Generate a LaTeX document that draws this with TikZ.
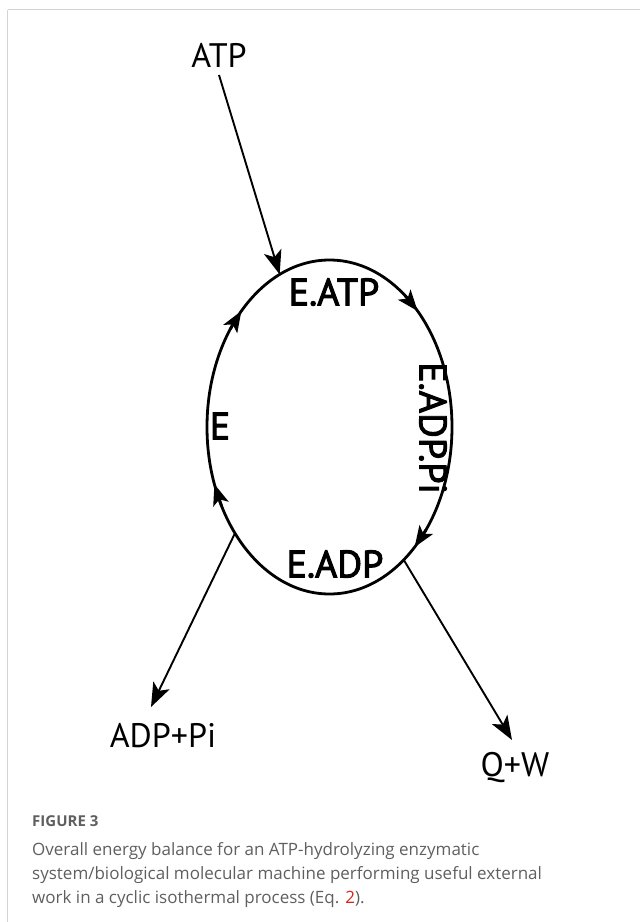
\documentclass[tikz,border=0pt]{standalone}
\usepackage{fontspec}
\setmainfont{PT Sans}
\newfontfamily\statefont{PT Sans}[FakeBold=2.6]
\newfontfamily\capfont{Open Sans}
\usetikzlibrary{arrows.meta,calc}
\definecolor{framegray}{HTML}{D4D4D4}
\definecolor{capgray}{HTML}{5F5F5F}
\definecolor{eqred}{HTML}{E0201B}

\begin{document}
\begin{tikzpicture}[x=1pt,y=-1pt,
  lbl/.style={inner sep=0pt, font=\statefont\fontsize{38}{40}\selectfont},
  outer/.style={inner sep=0pt, font=\fontsize{34}{36}\selectfont},
  flow/.style={line width=1.9pt, -{Stealth[length=24pt,width=18pt,inset=6pt]}},
  cyclearrow/.style={line width=2.8pt, -{Stealth[length=21pt,width=16pt,inset=5pt]}},
  framerule/.style={draw=framegray, line width=1.4pt},
  captxt/.style={inner sep=0pt, anchor=base west, text=capgray, font=\capfont\fontsize{17}{20}\selectfont}]
\useasboundingbox (0,0) rectangle (640,922);

% panel frame
\draw[framerule] (7.5,9.5) -- (640,9.5);
\draw[framerule] (7.5,9.5) -- (7.5,922);

% reaction cycle
\coordinate (c) at (329.5,427);
\draw[line width=2.8pt] (c) ellipse [x radius=122.5, y radius=167];
\foreach \t in {-44,224,160,46}
  \draw[cyclearrow] ($(c)+(\t-8:122.5 and 167)$) -- ($(c)+(\t:122.5 and 167)$);

% points where the inputs and outputs meet the cycle
\coordinate (in)  at ($(c)+(246:122.5 and 167)$);
\coordinate (out1) at ($(c)+(140.5:122.5 and 167)$);
\coordinate (out2) at ($(c)+(52.7:122.5 and 167)$);

% states of the enzyme
\node[lbl] (eatp) at (334,292) {E.ATP};
\node[lbl] (e) at (220,426) {E};
\node[lbl, rotate=-90] (eadppi) at (433,428) {E.ADP.Pi};
\node[lbl] (eadp) at (335,564) {E.ADP};

% substrate and products
\node[outer] (atp) at (219,55) {ATP};
\node[outer] (adppi) at (163,736) {ADP+Pi};
\node[outer] (qw) at (515,767) {Q+W};

\coordinate (atpfoot) at (219,75);
\coordinate (adptip) at (151,707);
\coordinate (qwtip) at (512,740);
\draw[flow] (atpfoot) -- (in);
\draw[flow] (out1) -- (adptip);
\draw[flow] (out2) -- (qwtip);

% caption
\node[inner sep=0pt, anchor=base west, text=capgray, font=\capfont\bfseries\fontsize{15}{18}\selectfont] (fig) at (32,826) {FIGURE 3};
\node[captxt] (cap1) at (32,855) {Overall energy balance for an ATP-hydrolyzing enzymatic};
\node[captxt] (cap2) at (32,879) {system/biological molecular machine performing useful external};
\node[captxt] (cap3) at (32,903) {work in a cyclic isothermal process (Eq. \textcolor{eqred}{2}).};
\end{tikzpicture}
\end{document}
